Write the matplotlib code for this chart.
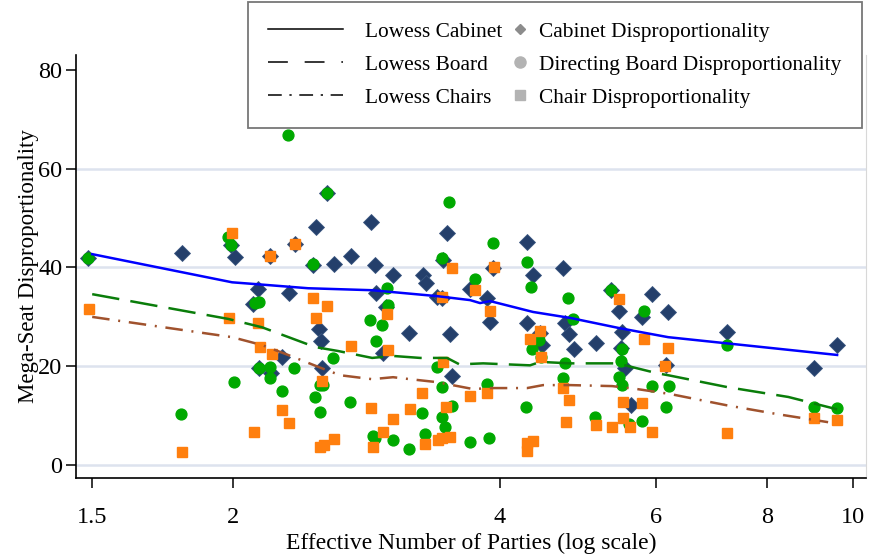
import numpy as np
import matplotlib
matplotlib.use("Agg")
import matplotlib.pyplot as plt
from matplotlib.lines import Line2D
from matplotlib.legend_handler import HandlerLine2D

plt.rcParams['font.family'] = ['Liberation Serif', 'DejaVu Serif']

# --- data (x = effective number of parties, y = disproportionality)
cab_x = [1.372, 1.752, 1.990, 2.010, 2.202, 2.349, 2.481, 2.553, 2.462, 2.600, 2.717, 2.862,
         2.134, 2.313, 2.107, 2.500, 2.512, 2.272, 2.140, 2.208, 2.519, 2.892, 2.900, 3.030,
         2.976, 2.953, 3.159, 3.276, 3.301, 3.397, 3.441, 3.486, 3.450, 3.513, 3.531, 3.701,
         3.865, 3.895, 3.926, 4.292, 4.359, 4.292, 4.440, 4.463, 4.713, 4.738, 4.788, 4.851,
         5.135, 5.339, 5.451, 5.494, 5.479, 5.537, 5.623, 5.786, 5.939, 6.191, 6.157, 7.216,
         9.602, 9.045]
cab_y = [41.9, 42.9, 44.5, 42.1, 42.3, 44.7, 48.2, 55.1, 40.5, 40.7, 42.3, 49.2,
         35.6, 34.8, 32.6, 27.5, 25.1, 21.9, 19.6, 18.6, 19.6, 40.5, 34.8, 38.5,
         32.0, 22.7, 26.7, 38.5, 36.8, 34.0, 33.8, 47.0, 41.5, 26.5, 18.0, 35.6,
         33.8, 28.9, 39.9, 45.1, 38.5, 28.7, 26.7, 24.3, 39.9, 28.7, 26.5, 23.5,
         24.7, 35.4, 31.2, 26.9, 23.7, 19.6, 12.1, 30.0, 34.6, 31.0, 20.2, 26.9,
         24.3, 19.6]

board_x = [1.372, 1.747, 1.974, 1.990, 2.005, 2.307, 2.553, 2.462, 2.118, 2.140, 2.140, 2.202,
           2.202, 2.272, 2.343, 2.475, 2.506, 2.525, 2.506, 2.593, 2.710, 2.855, 2.945, 2.900,
           2.984, 2.992, 2.877, 2.892, 3.030, 3.159, 3.267, 3.293, 3.397, 3.441, 3.441, 3.468,
           3.441, 3.504, 3.531, 3.750, 3.926, 3.701, 3.885, 3.865, 4.292, 4.336, 4.348, 4.428,
           4.451, 4.281, 4.775, 4.838, 4.738, 4.713, 5.121, 5.339, 5.494, 5.479, 5.451, 5.494,
           5.594, 5.786, 5.816, 5.939, 6.157, 6.207, 7.216, 9.045, 9.602]
board_y = [41.9, 10.3, 46.2, 44.5, 16.8, 66.8, 55.1, 40.7, 32.8, 33.0, 19.6, 19.8,
           17.6, 15.0, 19.6, 13.8, 16.2, 16.2, 10.7, 21.7, 12.8, 29.4, 28.3, 25.1,
           35.8, 32.4, 5.9, 5.5, 5.1, 3.2, 10.5, 6.3, 19.8, 15.8, 9.7, 7.7,
           41.9, 53.2, 11.9, 37.7, 44.9, 4.7, 5.5, 16.4, 41.1, 36.0, 23.5, 25.3,
           21.9, 11.7, 33.8, 29.6, 20.6, 17.6, 9.7, 35.4, 23.5, 21.1, 17.8, 16.2,
           8.3, 8.9, 31.2, 16.0, 11.7, 16.0, 24.3, 11.7, 11.5]

chair_x = [1.376, 1.752, 1.995, 1.979, 2.134, 2.145, 2.214, 2.202, 2.349, 2.462, 2.553, 2.481,
           2.717, 2.519, 2.112, 2.272, 2.313, 2.506, 2.532, 2.600, 2.862, 2.877, 2.992, 2.984,
           3.030, 3.167, 3.267, 2.953, 3.293, 3.406, 3.441, 3.441, 3.450, 3.531, 3.936, 3.750,
           3.895, 3.477, 3.701, 3.865, 3.513, 4.292, 4.359, 4.292, 4.325, 4.440, 4.451, 4.713,
           4.788, 4.750, 5.135, 5.353, 5.451, 5.508, 5.508, 5.609, 5.786, 5.939, 5.816, 6.191,
           6.141, 7.216, 9.045, 9.602]
chair_y = [31.6, 2.6, 47.0, 29.8, 28.7, 23.9, 22.5, 42.3, 44.7, 33.8, 32.2, 29.8,
           24.1, 17.0, 6.7, 11.1, 8.5, 3.6, 4.0, 5.3, 11.5, 3.6, 23.3, 30.6,
           9.3, 11.3, 14.6, 6.7, 4.3, 5.1, 5.5, 34.0, 20.9, 39.9, 40.1, 35.4,
           31.2, 11.7, 14.0, 14.6, 5.7, 4.5, 4.9, 2.8, 25.5, 27.1, 21.9, 15.6,
           13.2, 8.7, 8.1, 7.7, 33.6, 12.8, 9.5, 7.7, 12.6, 6.7, 25.5, 23.7,
           20.0, 6.5, 9.5, 9.1]

# lowess curves
low_cab_x = [1.387, 1.995, 2.134, 2.430, 2.870, 3.398, 3.701, 3.798, 3.899, 4.359, 4.799, 5.465, 6.191, 9.602]
low_cab_y = [42.7, 37.0, 36.6, 35.8, 35.4, 34.2, 33.4, 32.8, 33.2, 31.0, 29.8, 27.7, 25.9, 22.3]

low_board_x = [1.387, 1.974, 2.156, 2.475, 2.627, 2.870, 3.030, 3.251, 3.486, 3.600, 3.829, 4.325,
               4.440, 4.800, 5.423, 5.712, 6.016, 6.191, 7.216, 8.459, 9.602]
low_board_y = [34.6, 29.6, 27.9, 23.9, 23.1, 21.7, 22.1, 21.7, 21.7, 20.4, 20.6, 20.2,
               20.9, 20.6, 20.6, 19.6, 18.6, 18.2, 15.8, 13.8, 11.3]

low_chair_x = [1.387, 1.995, 2.156, 2.307, 2.519, 2.641, 2.870, 3.030, 3.167, 3.397, 3.730, 3.895,
               4.292, 4.474, 4.800, 5.353, 5.712, 6.223, 7.216, 8.238, 9.380]
low_chair_y = [30.0, 25.9, 24.3, 22.3, 19.6, 18.2, 17.4, 17.8, 17.4, 16.8, 15.4, 15.6,
               15.6, 16.2, 16.2, 16.0, 15.4, 14.4, 12.1, 10.3, 8.7]

tick_pos = [1.387, 2, 4, 6, 8, 10]
tick_lab = ['1.5', '2', '4', '6', '8', '10']
grid_vals = [0, 20, 40, 60]

fig = plt.figure(figsize=(8.7, 5.57), dpi=100)
ax = fig.add_axes([0.0874, 0.1418, 0.908, 0.7595])
ax.set_xscale('log')
ax.set_xlim(1.330, 10.35)
ax.set_ylim(-2.6, 83)

for g in grid_vals:
    ax.axhline(g, color='#dde3ee', lw=1.8, zorder=0)

ax.plot(cab_x, cab_y, 'D', color='#243f6b', mec='#3a5680', mew=0.6, ms=7.8, zorder=2)
ax.plot(board_x, board_y, 'o', color='#00a900', mec='#00a900', ms=7.8, zorder=3)
ax.plot(chair_x, chair_y, 's', color='#ff7f0e', mec='#ff7f0e', ms=6.8, zorder=3)

ax.plot(low_cab_x, low_cab_y, '-', color='#0000ff', lw=1.8, zorder=4)
ax.plot(low_board_x, low_board_y, color='#0a7d0a', lw=1.8, dashes=(11, 4.5), zorder=4)
ax.plot(low_chair_x, low_chair_y, color='#a0522d', lw=1.8, dashes=(7, 3.5, 0.8, 3.5), zorder=4)

ax.set_xticks(tick_pos)
ax.set_xticklabels(tick_lab)
ax.xaxis.set_minor_locator(matplotlib.ticker.NullLocator())
ax.set_yticks([0, 20, 40, 60, 80])
ax.tick_params(axis='both', labelsize=17.5, length=7, width=1.1, color='black')
ax.tick_params(axis='x', pad=14)
ax.tick_params(axis='y', pad=3)

ax.spines['top'].set_visible(False)
ax.spines['right'].set_color('#d8d8d8')
ax.spines['left'].set_linewidth(1.2)
ax.spines['bottom'].set_linewidth(1.2)

ax.set_xlabel('Effective Number of Parties (log scale)', fontsize=17, labelpad=3)
ax.set_ylabel('Mega-Seat Disproportionality', fontsize=16.5, labelpad=-1)


class RightMarker(HandlerLine2D):
    # put the marker at the right end of the handle box, next to its label
    def create_artists(self, legend, orig_handle, xdescent, ydescent, width, height, fontsize, trans):
        arts = super().create_artists(legend, orig_handle, xdescent, ydescent, width, height, fontsize, trans)
        for a in arts:
            a.set_xdata(np.full(len(a.get_xdata()), width - xdescent + 0.1 * fontsize))
        return arts


h_lines = [Line2D([], [], color='black', lw=1.1),
           Line2D([], [], color='black', lw=1.1, dashes=(13, 11)),
           Line2D([], [], color='black', lw=1.1, dashes=(9, 5, 1.5, 5))]
h_marks = [Line2D([], [], ls='none', marker='D', color='#8c8c8c', ms=5),
           Line2D([], [], ls='none', marker='o', color='#b3b3b3', ms=8),
           Line2D([], [], ls='none', marker='s', color='#b3b3b3', ms=7)]
labels = ['Lowess Cabinet', 'Lowess Board', 'Lowess Chairs',
          'Cabinet Disproportionality', 'Directing Board Disproportionality', 'Chair Disproportionality']
hmap = {h: RightMarker() for h in h_marks}
leg = fig.legend(h_lines + h_marks, labels, ncol=2, loc='upper right',
                 bbox_to_anchor=(0.991, 0.997), borderaxespad=0, fontsize=15.4, frameon=True,
                 fancybox=False, edgecolor='#555555', handlelength=3.5, handletextpad=1.0,
                 columnspacing=-2.75, labelspacing=0.6, borderpad=0.95, handler_map=hmap)
leg.get_frame().set_linewidth(1.3)

fig.savefig('out.png', dpi=100)
